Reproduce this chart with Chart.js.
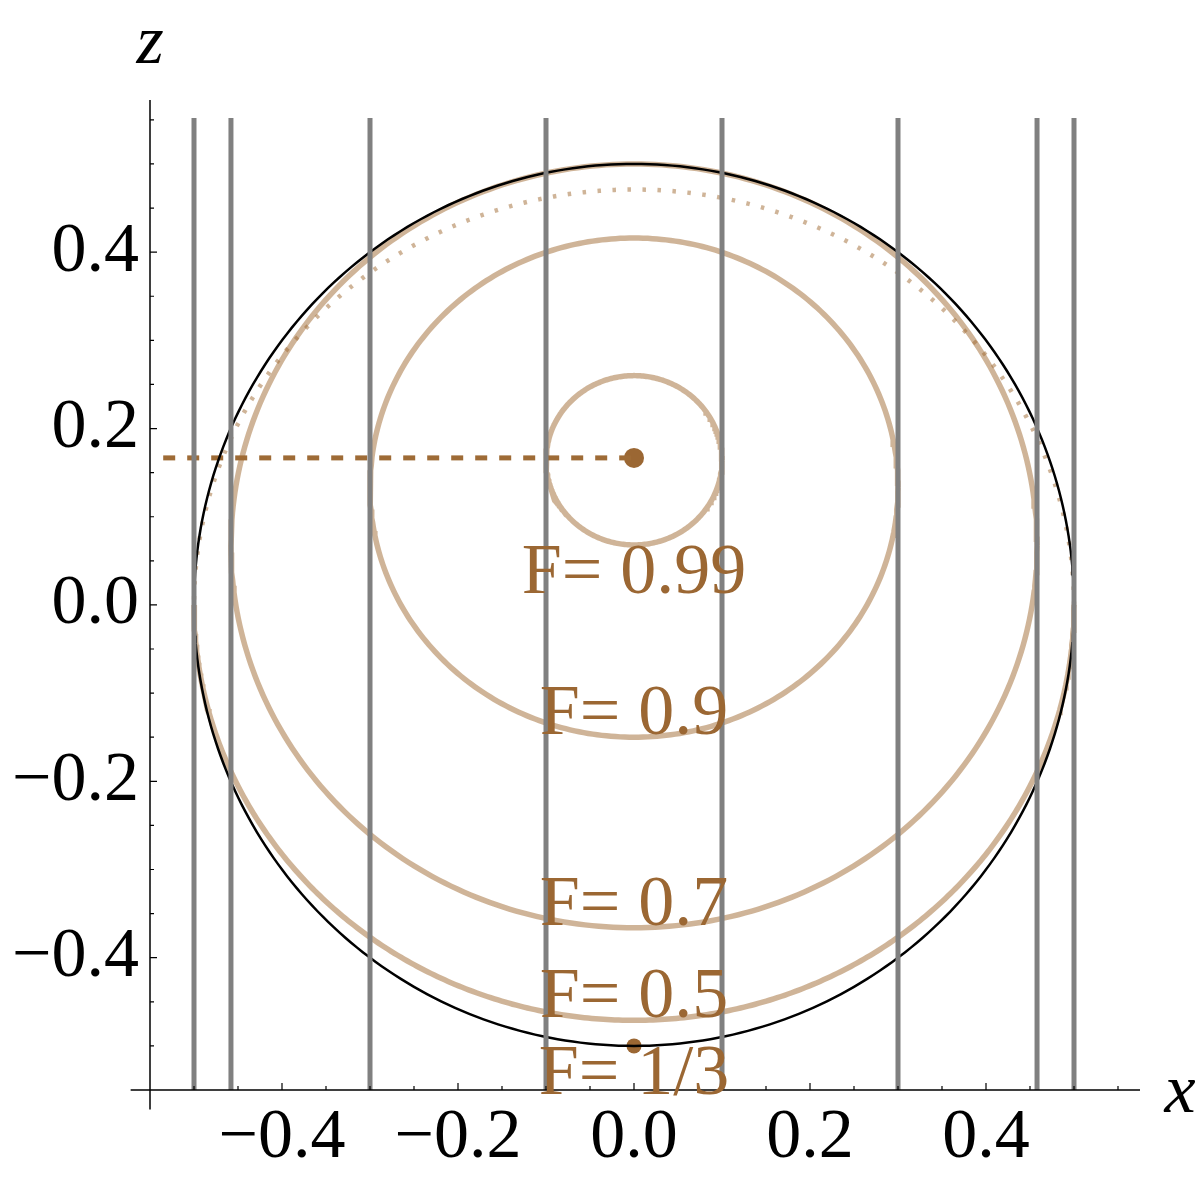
<!DOCTYPE html>
<html><head><meta charset="utf-8">
<script src="https://cdn.jsdelivr.net/npm/chart.js@4.4.1/dist/chart.umd.min.js"></script>
<style>html,body{margin:0;padding:0;background:#fff;}#wrap{width:1200px;height:1181px;position:relative;}</style>
</head><body><div id="wrap"><canvas id="c" width="1200" height="1181"></canvas></div>
<script>
// ---- data ----
const xTickValues = [-0.4, -0.2, 0, 0.2, 0.4];
const zTickValues = [-0.4, -0.2, 0, 0.2, 0.4];
const verticalLineX = [-0.5, -0.458, -0.3, -0.1, 0.1, 0.3, 0.458, 0.5];
const verticalLineZ = [-0.55, 0.552];
const sphereRadius = 0.5;
const ellipseNames = ['F=0.99', 'F=0.9', 'F=0.7', 'F=0.5'];
const ellipseCenterZ = [0.164, 0.133, 0.067, 0.0];
const ellipseRadiusX = [0.1, 0.3, 0.458, 0.5];
const ellipseRadiusZ = [0.096, 0.283, 0.433, 0.471];
const fidelityLabels = ['F= 0.99', 'F= 0.9', 'F= 0.7', 'F= 0.5', 'F= 1/3'];
const labelX = [0, 0, 0, 0, 0];
const labelBaselineZ = [0.0136, -0.146, -0.363, -0.467, -0.554];
const markerX = [0, 0];
const markerZ = [0.1667, -0.5];
const dashedX = [-0.535, 0];
const dashedZ = [0.1667, 0.1667];

const BROWN = '#9b6733';
const TAN = 'rgba(160,105,50,0.5)';
const GRAY = '#808080';

function ellipsePoints(cz, rx, rz, t0, t1) {
  const pts = [];
  const n = 360;
  for (let i = 0; i <= n; i++) {
    const t = t0 + (t1 - t0) * i / n;
    pts.push({x: rx * Math.cos(t), y: cz + rz * Math.sin(t)});
  }
  return pts;
}

const datasets = [];
verticalLineX.forEach(x => {
  datasets.push({data: [{x: x, y: verticalLineZ[0]}, {x: x, y: verticalLineZ[1]}],
    borderColor: GRAY, borderWidth: 5, showLine: true, pointRadius: 0, borderCapStyle: 'butt'});
});
datasets.push({data: ellipsePoints(0, sphereRadius, sphereRadius, 0, 2 * Math.PI),
  borderColor: '#000', borderWidth: 2.5, showLine: true, pointRadius: 0});
for (let i = 0; i < 3; i++) {
  datasets.push({data: ellipsePoints(ellipseCenterZ[i], ellipseRadiusX[i], ellipseRadiusZ[i], 0, 2 * Math.PI),
    borderColor: TAN, borderWidth: 5.5, showLine: true, pointRadius: 0});
}
// F=0.5: solid lower half, dotted upper half
datasets.push({data: ellipsePoints(ellipseCenterZ[3], ellipseRadiusX[3], ellipseRadiusZ[3], Math.PI, 2 * Math.PI),
  borderColor: TAN, borderWidth: 5.5, showLine: true, pointRadius: 0});
datasets.push({data: ellipsePoints(ellipseCenterZ[3], ellipseRadiusX[3], ellipseRadiusZ[3], 0, Math.PI),
  borderColor: TAN, borderWidth: 4.5, borderDash: [3.5, 11.5], borderCapStyle: 'butt', showLine: true, pointRadius: 0});
datasets.push({data: dashedX.map((x, i) => ({x: x, y: dashedZ[i]})),
  borderColor: '#9e6b36', borderWidth: 5, borderDash: [12, 12], borderCapStyle: 'butt', showLine: true, pointRadius: 0});
datasets.push({data: [{x: markerX[0], y: markerZ[0]}], pointRadius: 10, pointBackgroundColor: BROWN, pointBorderWidth: 0, showLine: false});
datasets.push({data: [{x: markerX[1], y: markerZ[1]}], pointRadius: 7.5, pointBackgroundColor: BROWN, pointBorderWidth: 0, showLine: false});

function fmt(v) {
  const a = Math.abs(v).toFixed(1);
  return v < -1e-9 ? '\u2212' + a : a;
}

const overlay = {
  id: 'overlay',
  afterDatasetsDraw(chart) {
    const ctx = chart.ctx, xs = chart.scales.x, ys = chart.scales.y;
    ctx.save();
    // axes
    ctx.strokeStyle = '#000';
    ctx.lineWidth = 1.5;
    const x0 = xs.getPixelForValue(-0.55), y0 = ys.getPixelForValue(-0.55);
    ctx.beginPath();
    ctx.moveTo(xs.getPixelForValue(-0.572), y0); ctx.lineTo(xs.getPixelForValue(0.575), y0);
    ctx.moveTo(x0, ys.getPixelForValue(-0.572)); ctx.lineTo(x0, ys.getPixelForValue(0.5725));
    ctx.stroke();
    // inward ticks
    ctx.lineWidth = 1.2;
    ctx.beginPath();
    for (let k = -11; k <= 11; k++) {
      const v = k * 0.05;
      const major = (k % 4 === 0);
      const len = major ? 7 : 4;
      if (v > -0.55 && v < 0.575) {
        const px = xs.getPixelForValue(v);
        ctx.moveTo(px, y0); ctx.lineTo(px, y0 - len);
      }
      if (v > -0.55 && v < 0.5725) {
        const py = ys.getPixelForValue(v);
        ctx.moveTo(x0, py); ctx.lineTo(x0 + len, py);
      }
    }
    ctx.stroke();
    // fidelity labels
    ctx.fillStyle = BROWN;
    ctx.font = '72px "Liberation Serif"';
    ctx.textAlign = 'center';
    ctx.textBaseline = 'alphabetic';
    fidelityLabels.forEach((t, i) => {
      ctx.fillText(t, xs.getPixelForValue(labelX[i]), ys.getPixelForValue(labelBaselineZ[i]));
    });
    // axis titles
    ctx.fillStyle = '#000';
    ctx.font = 'italic 70px "Liberation Serif"';
    ctx.fillText('z', x0, 63);
    ctx.fillText('x', 1180, 1112);
    ctx.restore();
  }
};

new Chart(document.getElementById('c'), {
  type: 'scatter',
  data: {datasets: datasets},
  options: {
    responsive: false,
    animation: false,
    events: [],
    layout: {padding: {top: 100, right: 60, left: 0, bottom: 0}},
    plugins: {legend: {display: false}, tooltip: {enabled: false}},
    elements: {line: {tension: 0}},
    scales: {
      x: {
        type: 'linear', min: -0.55, max: 0.575,
        grid: {display: false, drawTicks: false}, border: {display: false},
        afterBuildTicks: s => { s.ticks = xTickValues.map(v => ({value: v})); },
        afterFit: s => { s.height = 91; },
        ticks: {callback: v => fmt(v), color: '#000', padding: 7, maxRotation: 0, autoSkip: false,
          font: {family: '"Liberation Serif"', size: 70}}
      },
      y: {
        type: 'linear', min: -0.55, max: 0.5725,
        grid: {display: false, drawTicks: false}, border: {display: false},
        afterBuildTicks: s => { s.ticks = zTickValues.map(v => ({value: v})); },
        afterFit: s => { s.width = 150; },
        ticks: {callback: v => fmt(v), color: '#000', padding: 11, autoSkip: false,
          font: {family: '"Liberation Serif"', size: 70}}
      }
    }
  },
  plugins: [overlay]
});
</script></body></html>
